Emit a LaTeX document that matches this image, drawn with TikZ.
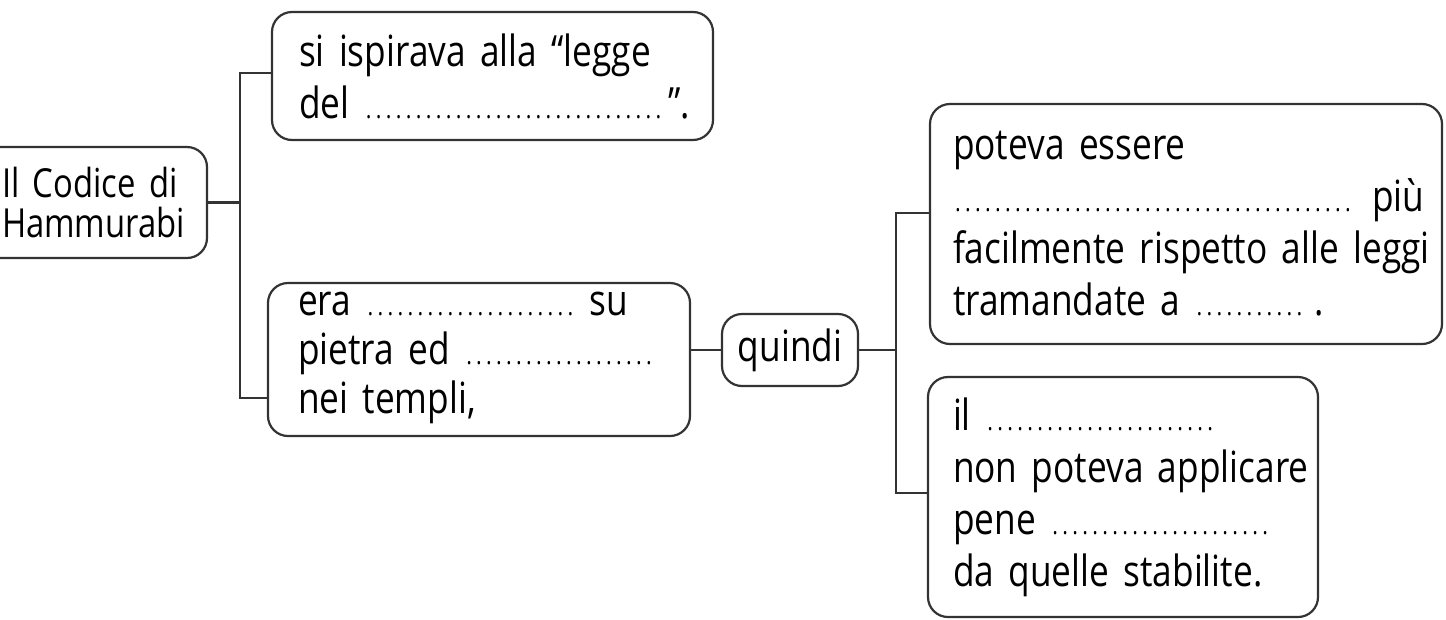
\documentclass[tikz,border=0pt]{standalone}
\usepackage{fontspec}
\setmainfont{Open Sans}[FakeStretch=0.82]
\newcommand\blank[1]{\hbox to #1{\leaders\hbox to 10pt{\hss\fontsize{26}{26}\selectfont.\hss}\hfill}}
\tikzset{
  box/.style={draw=black!80, line width=2.2pt, rounded corners=20pt, align=left,
    inner ysep=0pt, font=\fontsize{43}{52}\selectfont},
  conn/.style={draw=black!80, line width=2.2pt},
}
\begin{document}
\begin{tikzpicture}[x=1pt,y=-1pt]
\useasboundingbox (0,0) rectangle (1446,619);
% main node
\node[box, font=\fontsize{40}{40}\selectfont, inner xsep=22pt, text width=183pt, minimum height=111pt] (A) at (93.5,202.5)
  {\mbox{Il Codice di}\\\mbox{Hammurabi}};
\node[box, inner xsep=27pt, text width=387pt, minimum height=128pt] (B) at (492.5,76)
  {\mbox{si ispirava alla “legge}\\\mbox{del \blank{305pt}”.}};
\node[box, font=\fontsize{43}{49}\selectfont, inner xsep=30pt, text width=362pt, minimum height=153pt] (C) at (479,359.5)
  {\mbox{era \blank{210pt} su}\\\mbox{pietra ed \blank{198pt}}\\\mbox{nei templi,}\\[-35pt]\mbox{}};
\node[box, inner sep=0pt, minimum width=136pt, minimum height=72pt, align=center] (Q) at (790,350)
  {quindi};
\node[box, inner xsep=23pt, text width=466pt, minimum height=240pt] (D) at (1186,224)
  {\mbox{poteva essere}\\\mbox{\blank{405pt} più}\\\mbox{facilmente rispetto alle leggi}\\\mbox{tramandate a \blank{113pt}\,.}};
\node[box, inner xsep=25pt, text width=340pt, minimum height=240pt] (E) at (1123,497)
  {\mbox{il \blank{230pt}}\\\mbox{non poteva applicare}\\\mbox{pene \blank{222pt}}\\\mbox{da quelle stabilite.}};
% junctions
\coordinate (j1) at (240,202.5);
\coordinate (j2) at (896,350);
\draw[conn] (A.east) -- (j1);
\draw[conn] (j1) |- ([yshift=3pt]B.west);
\draw[conn] (j1) |- ([yshift=-38.5pt]C.west);
\draw[conn] ([yshift=9.5pt]C.east) -- (Q.west);
\draw[conn] (Q.east) -- (j2);
\draw[conn] (j2) |- ([yshift=11pt]D.west);
\draw[conn] (j2) |- ([yshift=4pt]E.west);
\end{tikzpicture}
\end{document}
